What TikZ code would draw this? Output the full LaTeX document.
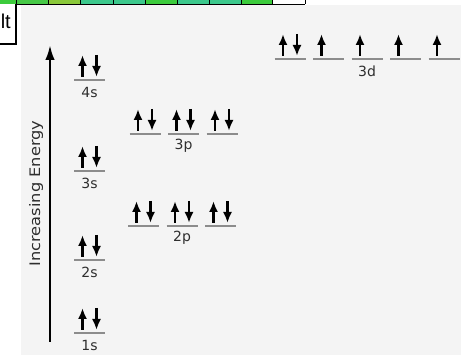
\documentclass[tikz,border=0pt]{standalone}
\usepackage{fontspec}
\setmainfont{DejaVu Sans}
\newfontfamily\arialfont{Liberation Sans}
\usetikzlibrary{arrows.meta}
\definecolor{bgpanel}{HTML}{F4F4F4}
\definecolor{orbline}{HTML}{8C8C8C}
\definecolor{labcol}{HTML}{2E2E2E}
\definecolor{gA}{HTML}{3CCB3C}
\definecolor{gB}{HTML}{46C846}
\definecolor{gC}{HTML}{8AC83A}
\definecolor{gD}{HTML}{3CC88C}
\tikzset{
  orbital/.style={draw=orbline, line width=2.2pt},
  elec/.style={line width=2.6pt, -{Latex[length=11pt,width=9pt]}},
  axisarrow/.style={line width=2.4pt, -{Latex[length=15pt,width=9.5pt]}},
  orblabel/.style={text=labcol, font=\fontsize{14}{14}\selectfont, inner sep=0pt},
}
% \orb{name}{cx}{y}: orbital line with named centre coordinate
\newcommand\orb[3]{%
  \coordinate (#1) at (#2,#3);
  \coordinate (#1L) at (#2-15.5,#3);
  \coordinate (#1R) at (#2+15.5,#3);
  \draw[orbital] (#1L) -- (#1R);
  \coordinate (#1ub) at (#2-7,#3-3);
  \coordinate (#1ut) at (#2-7,#3-25);
  \coordinate (#1db) at (#2+7,#3-3);
  \coordinate (#1dt) at (#2+7,#3-25);
}
\newcommand\pairel[1]{\draw[elec] (#1ub) -- (#1ut); \draw[elec] (#1dt) -- (#1db);}
\newcommand\upel[1]{\draw[elec] (#1ub) -- (#1ut);}
\begin{document}
\begin{tikzpicture}[x=1pt,y=-1pt]
\useasboundingbox (0,0) rectangle (461,355);
\fill[white] (0,0) rectangle (461,355);
% grey panel
\fill[bgpanel] (21,5) rectangle (461,355);
% top strip of cells
\fill[gA] (0,0) rectangle (16,4);
\fill[gB] (16,0) rectangle (48,4);
\fill[gC] (48,0) rectangle (80,4);
\fill[gD] (80,0) rectangle (113,4);
\fill[gD] (113,0) rectangle (145,4);
\fill[gA] (145,0) rectangle (177,4);
\fill[gD] (177,0) rectangle (209,4);
\fill[gD] (209,0) rectangle (241,4);
\fill[gA] (241,0) rectangle (272,4);
\fill[white] (272,0) rectangle (305,4);
\draw[line width=1pt] (0,4.5) -- (305,4.5);
\foreach \xx in {16,48,80,113,145,177,209,241,272,305} \draw[line width=1pt] (\xx,0) -- (\xx,4.5);
% "lt" box
\fill[white] (0,4.5) rectangle (16,44);
\draw[line width=1.2pt] (0,44) -- (16,44) -- (16,4.5);
\node[anchor=east, inner sep=0pt, font=\arialfont\fontsize{20}{20}\selectfont] (ltbox) at (11,21) {lt};
% energy axis
\coordinate (axb) at (50,342);
\coordinate (axt) at (50,45);
\draw[axisarrow] (axb) -- (axt);
\node[rotate=90, inner sep=0pt, text=labcol, font=\fontsize{14.5}{14.5}\selectfont] (axlab) at (36,193.5) {\scalebox{1.12}[1]{Increasing Energy}};
% s orbitals
\orb{s1}{89.5}{333} \pairel{s1}
\orb{s2}{89.5}{260} \pairel{s2}
\orb{s3}{89.5}{171} \pairel{s3}
\orb{s4}{89.5}{80}  \pairel{s4}
\node[orblabel] (l1s) at (89.5,345) {1s};
\node[orblabel] (l2s) at (89.5,272) {2s};
\node[orblabel] (l3s) at (89.5,183) {3s};
\node[orblabel] (l4s) at (89.5,92) {4s};
% 2p
\orb{pa}{143.5}{226} \pairel{pa}
\orb{pb}{182}{226} \pairel{pb}
\orb{pc}{220.5}{226} \pairel{pc}
\node[orblabel] (l2p) at (182,238) {2p};
% 3p
\orb{qa}{145}{134} \pairel{qa}
\orb{qb}{183.5}{134} \pairel{qb}
\orb{qc}{222}{134} \pairel{qc}
\node[orblabel] (l3p) at (183.5,146) {3p};
% 3d
\orb{da}{290}{59} \pairel{da}
\orb{db}{328.5}{59} \upel{db}
\orb{dc}{367}{59} \upel{dc}
\orb{dd}{405.5}{59} \upel{dd}
\orb{de}{444}{59} \upel{de}
\node[orblabel] (l3d) at (367,71) {3d};
\end{tikzpicture}
\end{document}
